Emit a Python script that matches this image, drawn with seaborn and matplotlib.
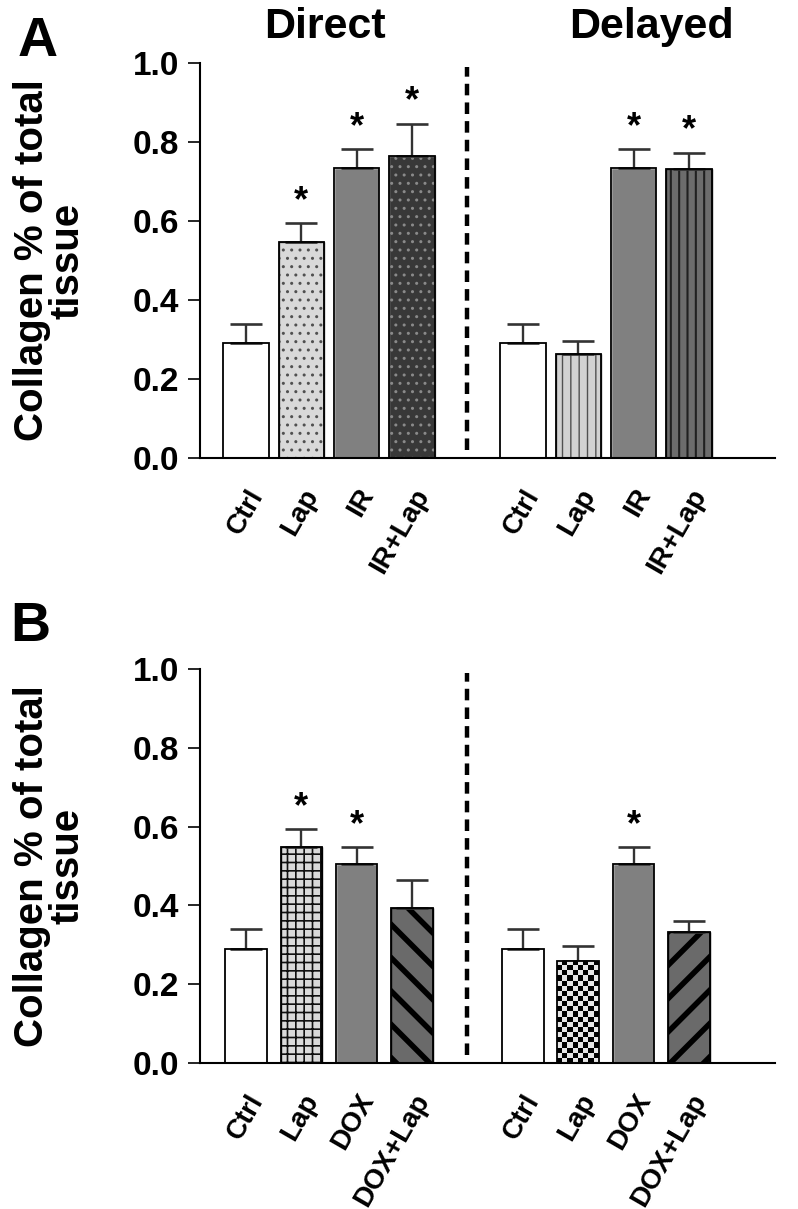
import numpy as np
import pandas as pd
import matplotlib
matplotlib.use("Agg")
import matplotlib.pyplot as plt
from matplotlib.patches import Rectangle
import seaborn as sns

# ---- data ----
groups_a = ["Ctrl", "Lap", "IR", "IR+Lap"]
groups_b = ["Ctrl", "Lap", "DOX", "DOX+Lap"]

direct_a = [0.29, 0.548, 0.735, 0.765]
direct_a_err = [0.05, 0.046, 0.047, 0.081]
delayed_a = [0.29, 0.262, 0.735, 0.732]
delayed_a_err = [0.05, 0.035, 0.047, 0.041]
stars_a = [False, True, True, True, False, False, True, True]

direct_b = [0.29, 0.547, 0.505, 0.393]
direct_b_err = [0.05, 0.047, 0.042, 0.071]
delayed_b = [0.29, 0.26, 0.505, 0.332]
delayed_b_err = [0.05, 0.037, 0.042, 0.029]
stars_b = [False, True, True, False, False, False, True, False]

# fill, pattern, pattern colour, pattern line width (pt)
styles_a = [("white", None, None, 0),
            ("#d9d9d9", "..", "#505050", 1.0),
            ("#808080", None, None, 0),
            ("#383838", "..", "#8a8a8a", 1.0),
            ("white", None, None, 0),
            ("#d2d2d2", "||", "#505050", 1.0),
            ("#808080", None, None, 0),
            ("#6c6c6c", "||", "#202020", 1.5)]
styles_b = [("white", None, None, 0),
            ("#dadada", "++", "#101010", 1.2),
            ("#808080", None, None, 0),
            ("#6a6a6a", "\\", "#000000", 4.0),
            ("white", None, None, 0),
            ("#e6e6e6", "checker", "#000000", 0),
            ("#808080", None, None, 0),
            ("#6a6a6a", "/", "#000000", 4.0)]

sns.set_style("ticks")
plt.rcParams["font.family"] = ["Liberation Sans", "DejaVu Sans"]
plt.rcParams["font.weight"] = "bold"
plt.rcParams["text.color"] = "black"
plt.rcParams["xtick.color"] = "black"
plt.rcParams["ytick.color"] = "black"
plt.rcParams["axes.labelcolor"] = "black"
plt.rcParams["axes.edgecolor"] = "black"


def make_frame(groups, direct, direct_err, delayed, delayed_err):
    slots = [f"Direct {g}" for g in groups] + [f"Delayed {g}" for g in groups]
    return pd.DataFrame({
        "slot": slots,
        "label": groups + groups,
        "value": direct + delayed,
        "err": direct_err + delayed_err,
    })


def draw_panel(ax, df, styles, stars, width):
    order = list(df["slot"][:4]) + ["gap"] + list(df["slot"][4:])
    palette = {s: st[0] for s, st in zip(df["slot"], styles)}
    sns.barplot(data=df, x="slot", y="value", hue="slot", order=order,
                palette=palette, width=width, errorbar=None, legend=False,
                saturation=1, ax=ax)
    ax.set_ylim(0, 1.0)
    ax.set_xlim(-0.83, 9.55)

    # map patches to slots by their centre
    bars = {}
    for p in ax.patches:
        idx = int(round(p.get_x() + p.get_width() / 2))
        bars[order[idx]] = p

    centers, tops = [], []
    for i, slot in enumerate(df["slot"]):
        p = bars[slot]
        fill, hatch, hcol, hlw = styles[i]
        x0, w, h = p.get_x(), p.get_width(), p.get_height()
        if hatch == "checker":
            # checkerboard clipped to the bar
            bb = ax.transData.transform([[x0, 0], [x0 + w, h]])
            nx = 8
            ny = max(1, int(round(nx * (bb[1, 1] - bb[0, 1]) / (bb[1, 0] - bb[0, 0]))))
            board = (np.add.outer(np.arange(ny), np.arange(nx)) % 2).astype(float)
            im = ax.imshow(board, extent=(x0, x0 + w, 0, h), aspect="auto",
                           cmap=matplotlib.colors.ListedColormap([fill, hcol]),
                           interpolation="nearest", zorder=p.get_zorder() + 0.1)
            im.set_clip_path(p)
        elif hatch is not None:
            p.set_hatch(hatch)
            p.set_edgecolor(hcol)
            if hasattr(p, "set_hatch_linewidth"):
                p.set_hatch_linewidth(hlw)
        ax.add_patch(Rectangle((x0, 0), w, h, fill=False, edgecolor="black",
                               linewidth=1.3, zorder=p.get_zorder() + 0.2))
        centers.append(x0 + w / 2)
        tops.append(h)

    err = df["err"].to_numpy()
    ax.errorbar(centers, tops, yerr=[np.zeros_like(err), err], fmt="none",
                ecolor="#333333", elinewidth=1.7, capsize=11.5, capthick=1.9,
                zorder=1)
    for c, t, e, s in zip(centers, tops, err, stars):
        if s:
            ax.annotate("*", (c, t + e), xytext=(0, 3), textcoords="offset points",
                        ha="center", va="bottom", fontsize=26, fontweight="bold")

    # dashed separator between the two time points
    sep = (centers[3] + centers[4]) / 2
    ax.vlines(sep, 0.02, 0.99, colors="black", linestyles=(0, (2.6, 1.6)),
              linewidth=3.2)

    ax.set_xticks(range(len(order)))
    ax.set_xticklabels(list(df["label"][:4]) + [""] + list(df["label"][4:]))
    plt.setp(ax.get_xticklabels(), rotation=60, ha="right", va="top",
             rotation_mode="anchor", fontsize=20, fontweight="bold")
    ax.tick_params(axis="x", length=0, pad=19)
    ax.set_yticks(np.arange(0, 1.01, 0.2))
    ax.set_yticklabels([f"{v:.1f}" for v in np.arange(0, 1.01, 0.2)],
                       fontsize=24, fontweight="bold")
    ax.tick_params(axis="y", length=9, width=1.2, pad=6)
    ax.set_xlabel("")
    ax.set_ylabel("Collagen % of total\ntissue", fontsize=29, fontweight="bold",
                  linespacing=0.92, labelpad=33)
    for side in ["left", "bottom"]:
        ax.spines[side].set_linewidth(1.5)
    sns.despine(ax=ax)


fig = plt.figure(figsize=(7.98, 12.09), dpi=100)
ax_a = fig.add_axes([0.2506, 0.6212, 0.7204, 0.3267])
ax_b = fig.add_axes([0.2506, 0.1208, 0.7204, 0.3259])

df_a = make_frame(groups_a, direct_a, direct_a_err, delayed_a, delayed_a_err)
df_b = make_frame(groups_b, direct_b, direct_b_err, delayed_b, delayed_b_err)
draw_panel(ax_a, df_a, styles_a, stars_a, 0.82)
draw_panel(ax_b, df_b, styles_b, stars_b, 0.75)

fig.text(325 / 798, 1 - 27 / 1209, "Direct", ha="center", va="center",
         fontsize=31, fontweight="bold")
fig.text(651 / 798, 1 - 27 / 1209, "Delayed", ha="center", va="center",
         fontsize=31, fontweight="bold")
fig.text(18 / 798, 1 - 42 / 1209, "A", ha="left", va="center",
         fontsize=40, fontweight="bold")
fig.text(10 / 798, 1 - 627 / 1209, "B", ha="left", va="center",
         fontsize=40, fontweight="bold")

fig.savefig("out.png", dpi=100)
